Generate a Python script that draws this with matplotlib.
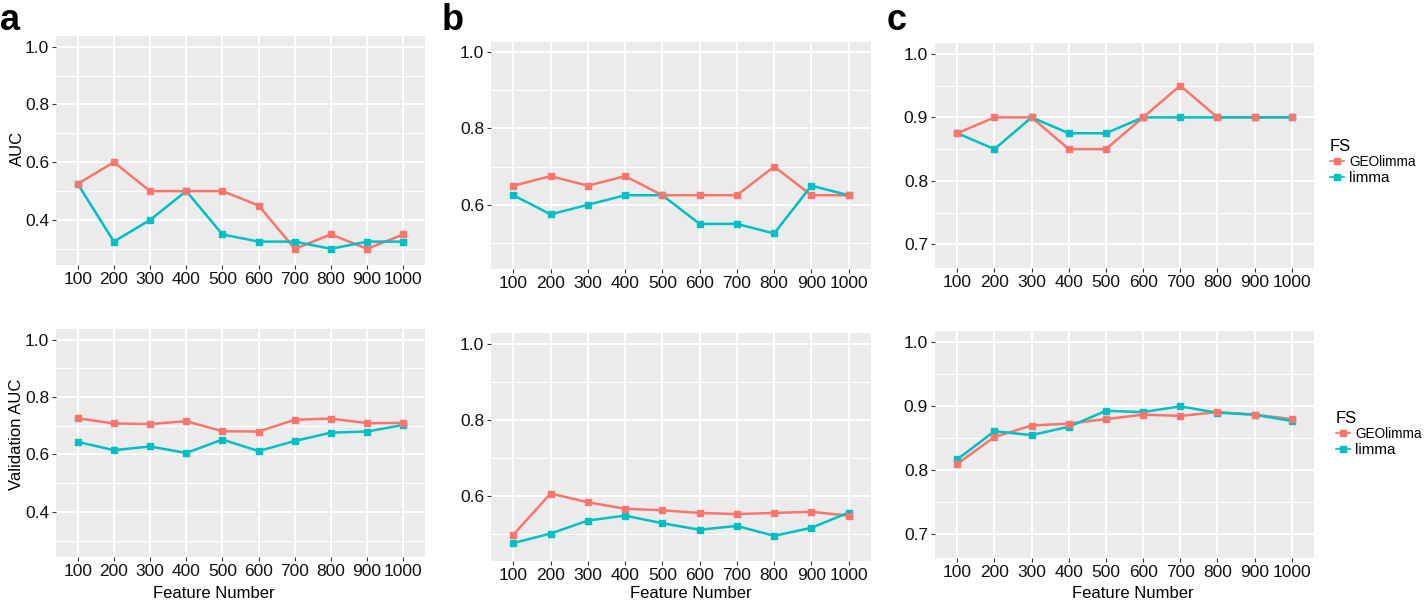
import matplotlib.pyplot as plt
from matplotlib.lines import Line2D

plt.rcParams['font.family'] = ['Liberation Sans', 'DejaVu Sans']

features = ['100', '200', '300', '400', '500', '600', '700', '800', '900', '1000']

# panel a
a_auc_geo = [0.525, 0.6, 0.5, 0.5, 0.5, 0.45, 0.3, 0.35, 0.3, 0.35]
a_auc_limma = [0.525, 0.325, 0.4, 0.5, 0.35, 0.325, 0.325, 0.3, 0.325, 0.325]
a_val_geo = [0.726, 0.708, 0.706, 0.716, 0.681, 0.680, 0.721, 0.725, 0.709, 0.710]
a_val_limma = [0.644, 0.615, 0.628, 0.605, 0.652, 0.612, 0.647, 0.676, 0.680, 0.703]

# panel b
b_auc_geo = [0.65, 0.675, 0.65, 0.675, 0.625, 0.625, 0.625, 0.7, 0.625, 0.625]
b_auc_limma = [0.625, 0.575, 0.6, 0.625, 0.625, 0.55, 0.55, 0.525, 0.65, 0.625]
b_val_geo = [0.499, 0.607, 0.584, 0.567, 0.563, 0.556, 0.553, 0.556, 0.559, 0.549]
b_val_limma = [0.477, 0.502, 0.536, 0.549, 0.529, 0.512, 0.522, 0.496, 0.517, 0.557]

# panel c
c_auc_geo = [0.875, 0.9, 0.9, 0.85, 0.85, 0.9, 0.95, 0.9, 0.9, 0.9]
c_auc_limma = [0.875, 0.85, 0.9, 0.875, 0.875, 0.9, 0.9, 0.9, 0.9, 0.9]
c_val_geo = [0.810, 0.852, 0.870, 0.873, 0.880, 0.887, 0.885, 0.891, 0.887, 0.880]
c_val_limma = [0.817, 0.861, 0.855, 0.868, 0.893, 0.891, 0.900, 0.890, 0.887, 0.877]

RED = '#F8766D'
TEAL = '#00BFC4'
W, H = 1424, 604

fig = plt.figure(figsize=(W / 100, H / 100), dpi=100)


def px_axes(left, top, right, bottom):
    return fig.add_axes([left / W, 1 - bottom / H, (right - left) / W, (bottom - top) / H])


def draw(ax, geo, limma, ylim, major, minor):
    x = list(range(len(features)))
    ax.set_facecolor('#EBEBEB')
    ax.plot(x, geo, color=RED, lw=1.8, zorder=3)
    ax.plot(x, limma, color=TEAL, lw=1.8, zorder=3)
    ax.plot(x, limma, 's', color=TEAL, ms=5, zorder=4)
    ax.plot(x, geo, 's', color=RED, ms=5, zorder=5)
    ax.set_xlim(-0.6, len(features) - 0.4)
    ax.set_ylim(*ylim)
    ax.set_xticks(x)
    ax.set_xticklabels(features)
    ax.set_yticks(major)
    ax.set_yticks(minor, minor=True)
    ax.grid(True, which='major', color='white', lw=1.5)
    ax.grid(True, which='minor', axis='y', color='white', lw=0.8)
    ax.set_axisbelow(True)
    for s in ax.spines.values():
        s.set_visible(False)
    ax.tick_params(which='major', length=3, width=0.8, color='#333333',
                   labelsize=12.5, labelcolor='#111111', pad=2)
    ax.tick_params(which='minor', length=0)


ab_major = [0.4, 0.6, 0.8, 1.0]
ab_minor = [0.3, 0.5, 0.7, 0.9]
c_major = [0.7, 0.8, 0.9, 1.0]
c_minor = [0.75, 0.85, 0.95]

ax = px_axes(56, 36, 425, 265)
draw(ax, a_auc_geo, a_auc_limma, (0.244, 1.037), ab_major, ab_minor)
ax = px_axes(56, 329, 425, 557)
draw(ax, a_val_geo, a_val_limma, (0.243, 1.037), ab_major, ab_minor)

ax = px_axes(491, 42, 871, 269)
draw(ax, b_auc_geo, b_auc_limma, (0.432, 1.026), [0.6, 0.8, 1.0], [0.5, 0.7, 0.9])
ax = px_axes(491, 333, 871, 561)
draw(ax, b_val_geo, b_val_limma, (0.430, 1.028), [0.6, 0.8, 1.0], [0.5, 0.7, 0.9])

ax_c1 = px_axes(935, 43, 1314, 268)
draw(ax_c1, c_auc_geo, c_auc_limma, (0.663, 1.017), c_major, c_minor)
ax_c2 = px_axes(935, 331, 1314, 558)
draw(ax_c2, c_val_geo, c_val_limma, (0.6625, 1.018), c_major, c_minor)

# axis titles
fig.text(17 / W, 1 - 148 / H, 'AUC', rotation=90, ha='center', va='center', fontsize=12)
fig.text(17 / W, 1 - 434 / H, 'Validation AUC', rotation=90, ha='center', va='center', fontsize=12)
for cx in (214, 691, 1133):
    fig.text(cx / W, 1 - 594 / H, 'Feature Number', ha='center', va='center', fontsize=12)

# panel letters
for cx, letter in ((10, 'a'), (453, 'b'), (897, 'c')):
    fig.text(cx / W, 1 - 20 / H, letter, ha='center', va='center', fontsize=26, fontweight='bold')

# legends
handles = [Line2D([], [], color=RED, marker='s', ms=5, lw=1.2),
           Line2D([], [], color=TEAL, marker='s', ms=5, lw=1.2)]
for ax, anchor in ((ax_c1, (1323, 132)), (ax_c2, (1329, 404))):
    leg = ax.legend(handles, ['GEOlimma', 'limma'], title='FS', loc='upper left',
                    bbox_to_anchor=(anchor[0] / W, 1 - anchor[1] / H),
                    bbox_transform=fig.transFigure, frameon=False, fontsize=10,
                    title_fontsize=12, handlelength=1.0, handletextpad=0.4,
                    borderpad=0, labelspacing=0.1, alignment='left')
    leg.get_texts()[0].set_fontsize(9.8)
    leg.get_texts()[1].set_fontsize(11)

fig.savefig('out.png', dpi=100)
